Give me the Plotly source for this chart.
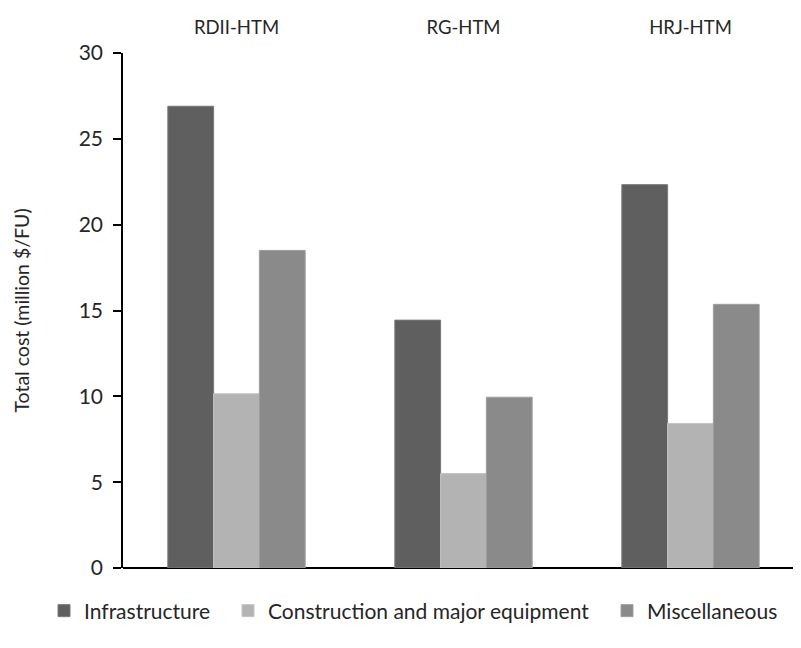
import plotly.graph_objects as go

categories = ["RDII-HTM", "RG-HTM", "HRJ-HTM"]
series_names = ["Infrastructure", "Construction and major equipment", "Miscellaneous"]
infrastructure = [26.9, 14.44, 22.33]
construction = [10.15, 5.5, 8.42]
miscellaneous = [18.5, 9.95, 15.36]
y_ticks = [0, 5, 10, 15, 20, 25, 30]

colors = ["#5f5f5f", "#b3b3b3", "#8a8a8a"]
edge_colors = ["#7a7a7a", "#c4c4c4", "#9e9e9e"]
values = [infrastructure, construction, miscellaneous]
legend_ids = ["legend", "legend2", "legend3"]
legend_left_px = [36, 220, 599]

FONT = "Lato"
TXT = "#262626"

fig = go.Figure()
for name, vals, c, ec, lg in zip(series_names, values, colors, edge_colors, legend_ids):
    fig.add_trace(go.Bar(
        x=categories, y=vals, name=name, legend=lg,
        marker=dict(color=c, line=dict(color=ec, width=1)),
    ))

legend_layout = {}
for lg, px in zip(legend_ids, legend_left_px):
    legend_layout[lg] = dict(
        xref="container", yref="container",
        x=px / 801, xanchor="left", y=45 / 648, yanchor="middle",
        orientation="h", bgcolor="rgba(0,0,0,0)",
        font=dict(family=FONT, size=21, color=TXT),
    )

fig.update_layout(
    width=801, height=648,
    paper_bgcolor="white", plot_bgcolor="white",
    barmode="group", bargap=0.395, bargroupgap=0,
    margin=dict(l=115, r=5, t=45, b=88, autoexpand=False),
    font=dict(family=FONT, size=19, color=TXT),
    showlegend=True,
    xaxis=dict(
        side="top", showline=False, ticks="", showgrid=False,
        range=[-0.5, 2.5], ticklabelstandoff=14,
        tickfont=dict(family=FONT, size=18.5, color=TXT),
    ),
    yaxis=dict(
        range=[0, 30], tickvals=y_ticks, showgrid=False,
        showline=True, linecolor="black", linewidth=1.5,
        ticks="outside", ticklen=8, tickwidth=1.5, tickcolor="black",
        zeroline=True, zerolinecolor="black", zerolinewidth=1.5,
        ticklabelstandoff=6,
        tickfont=dict(family=FONT, size=21, color=TXT),
        title=dict(text="Total cost (million $/FU)", standoff=44,
                   font=dict(family=FONT, size=19.5, color=TXT)),
    ),
    yaxis2=dict(
        range=[0, 30], tickvals=y_ticks, overlaying="y", side="left",
        showgrid=False, showline=False, zeroline=False,
        ticks="inside", ticklen=8, tickwidth=1.5, tickcolor="black",
        showticklabels=False,
    ),
    **legend_layout,
)

fig.write_html("out.html")
